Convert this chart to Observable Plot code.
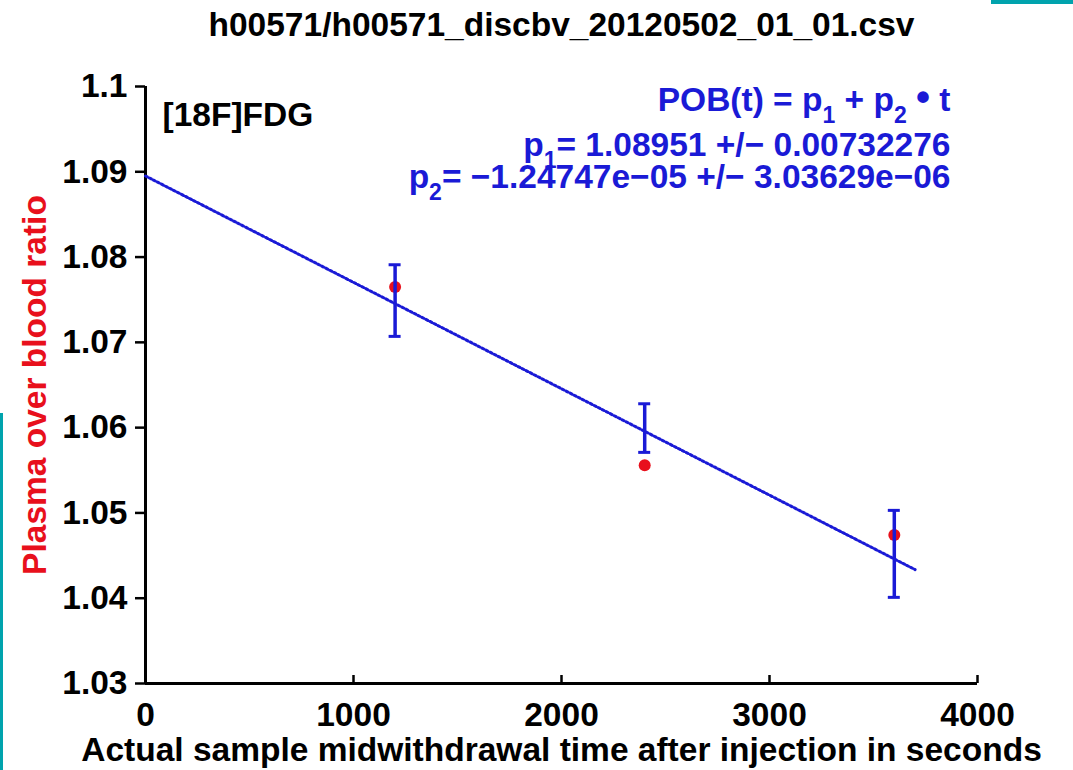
<!DOCTYPE html>
<html>
<head>
<meta charset="utf-8">
<script src="https://cdn.jsdelivr.net/npm/d3@7"></script>
<script src="https://cdn.jsdelivr.net/npm/@observablehq/plot@0.6"></script>
<style>
  html, body { margin: 0; padding: 0; background: #fff; }
  #wrap { position: relative; width: 1073px; height: 770px; overflow: hidden; }
  .deco { position: absolute; background: #00a3ad; }
</style>
</head>
<body>
<div id="wrap">
  <div id="chart"></div>
  <div class="deco" style="left:991px;top:0;width:82px;height:4px"></div>
  <div class="deco" style="left:0;top:413px;width:3px;height:357px"></div>
</div>
<script>
// ---- data ----
const title = "h00571/h00571_discbv_20120502_01_01.csv";
const xLabel = "Actual sample midwithdrawal time after injection in seconds";
const yLabel = "Plasma over blood ratio";
const tracer = "[18F]FDG";
const eqLines = [
  "POB(t) = p_1 + p_2 \u2022 t",
  "p_1= 1.08951 +/\u2212 0.00732276",
  "p_2= \u22121.24747e\u221205 +/\u2212 3.03629e\u221206"
];
const p1 = 1.08951;
const p2 = -1.24747e-05;
const fitT = [0, 3700];
const sampleTimes = [1200, 2400, 3600];
const sampleRatios = [1.0765, 1.0556, 1.0474];
const errLow = [1.0707, 1.0571, 1.0401];
const errHigh = [1.0791, 1.0628, 1.0503];
const xTicks = [0, 1000, 2000, 3000, 4000];
const yTicks = [1.03, 1.04, 1.05, 1.06, 1.07, 1.08, 1.09, 1.1];

// ---- derived tables ----
const samples = sampleTimes.map((t, i) => ({t, r: sampleRatios[i], lo: errLow[i], hi: errHigh[i]}));
const fit = fitT.map(t => ({t, r: p1 + p2 * t}));

const BLUE = "#1a1ad6";
const RED = "#e8101c";
const FONT = "'Liberation Sans', Arial, Helvetica, sans-serif";
const FS = 33.5;

const plot = Plot.plot({
  width: 1073,
  height: 770,
  marginLeft: 145,
  marginRight: 96,
  marginTop: 86,
  marginBottom: 87,
  style: {fontFamily: FONT, fontSize: FS + "px", fontWeight: "bold", color: "#000", background: "#fff"},
  x: {domain: [0, 4000]},
  y: {domain: [1.03, 1.1]},
  marks: [
    Plot.axisY({ticks: yTicks, tickSize: 10, tickPadding: 8, strokeWidth: 2.5, label: null,
      tickFormat: d => String(+d.toFixed(2))}),
    Plot.axisX({ticks: xTicks, tickSize: 0, tickPadding: 19, label: null, tickFormat: d => String(d)}),
    Plot.tickX(xTicks, {x: d => d, insetTop: 589, stroke: "#000", strokeWidth: 2.5}),
    Plot.ruleX([0], {stroke: "#000", strokeWidth: 3}),
    Plot.ruleY([1.03], {stroke: "#000", strokeWidth: 3}),
    Plot.line(fit, {x: "t", y: "r", stroke: BLUE, strokeWidth: 3, strokeDasharray: "2,2.5"}),
    Plot.dot(samples, {x: "t", y: "r", r: 6, fill: RED, stroke: "none"}),
    Plot.ruleX(samples, {x: "t", y1: "lo", y2: "hi", stroke: BLUE, strokeWidth: 3.5}),
    Plot.ruleY(samples, {y: "lo", x1: "t", x2: "t", insetLeft: -6, insetRight: -6, stroke: BLUE, strokeWidth: 3}),
    Plot.ruleY(samples, {y: "hi", x1: "t", x2: "t", insetLeft: -6, insetRight: -6, stroke: BLUE, strokeWidth: 3}),
    Plot.text([title], {frameAnchor: "top", lineAnchor: "middle", dy: -61, fontSize: FS, fill: "#000"}),
    Plot.text([tracer], {frameAnchor: "top-left", lineAnchor: "middle", dx: 17, dy: 29, textAnchor: "start", fontSize: FS, fill: "#000"}),
    Plot.text(eqLines, {frameAnchor: "top-right", lineAnchor: "middle", dx: -27, textAnchor: "end", fontSize: FS, fill: BLUE}),
    Plot.text([xLabel], {frameAnchor: "bottom", lineAnchor: "middle", dy: 67, fontSize: FS, fill: "#000"}),
    Plot.text([yLabel], {frameAnchor: "left", lineAnchor: "middle", textAnchor: "middle", dx: -110, rotate: -90, fontSize: FS, fill: RED})
  ]
});
document.getElementById("chart").appendChild(plot);

// position the three equation lines and render subscripts as tspans
const eqDy = [14, 59, 91];
const svg = d3.select(plot);
svg.selectAll("text").each(function() {
  const txt = this.textContent;
  const idx = eqLines.indexOf(txt);
  if (idx < 0) return;
  const el = d3.select(this);
  const tr = el.attr("transform") || "";
  el.attr("transform", tr + ` translate(0,${eqDy[idx]})`);
  const parts = txt.split(/(_[12]|\u2022)/).filter(p => p.length);
  el.text(null);
  let cur = 0;
  parts.forEach(p => {
    let off = 0, size = null, s = p;
    if (/^_[12]$/.test(p)) { off = 12; size = 23; s = p[1]; }
    else if (p === "\u2022") { off = 0; size = 40; }
    const ts = el.append("tspan").text(s);
    if (off !== cur) ts.attr("dy", off - cur);
    if (size) ts.attr("font-size", size);
    cur = off;
  });
});
</script>
</body>
</html>
